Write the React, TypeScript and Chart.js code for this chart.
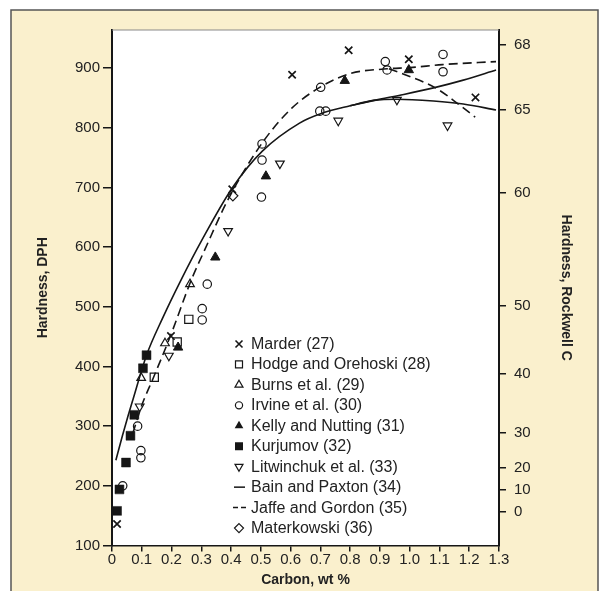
import React, { useEffect, useRef } from 'react';
import { Chart, registerables } from 'chart.js';

Chart.register(...registerables);

// ---------- axis ticks ----------
const xTicks = [0, 0.1, 0.2, 0.3, 0.4, 0.5, 0.6, 0.7, 0.8, 0.9, 1.0, 1.1, 1.2, 1.3];
const xTickLabels = ['0', '0.1', '0.2', '0.3', '0.4', '0.5', '0.6', '0.7', '0.8', '0.9', '1.0', '1.1', '1.2', '1.3'];
const dphTicks = [100, 200, 300, 400, 500, 600, 700, 800, 900];
const hrcLabels = ['68', '65', '60', '50', '40', '30', '20', '10', '0'];
const hrcAtDph = [939, 830, 691, 501, 388, 289, 230, 193, 156];

// ---------- data (carbon wt %, hardness DPH) ----------
const marder = [
  { x: 0.017, y: 136 }, { x: 0.198, y: 451 }, { x: 0.404, y: 697 }, { x: 0.605, y: 889 },
  { x: 0.795, y: 930 }, { x: 0.997, y: 915 }, { x: 1.221, y: 851 },
];
const hodge = [{ x: 0.142, y: 382 }, { x: 0.219, y: 441 }, { x: 0.258, y: 479 }];
const burns = [{ x: 0.098, y: 381 }, { x: 0.178, y: 439 }, { x: 0.262, y: 538 }];
const irvine = [
  { x: 0.036, y: 200 }, { x: 0.086, y: 300 }, { x: 0.097, y: 247 }, { x: 0.097, y: 259 },
  { x: 0.303, y: 497 }, { x: 0.303, y: 478 }, { x: 0.32, y: 538 }, { x: 0.504, y: 773 },
  { x: 0.504, y: 746 }, { x: 0.502, y: 684 }, { x: 0.701, y: 868 }, { x: 0.698, y: 828 },
  { x: 0.718, y: 828 }, { x: 0.918, y: 911 }, { x: 0.924, y: 897 }, { x: 1.112, y: 923 },
  { x: 1.112, y: 894 },
];
const kelly = [
  { x: 0.222, y: 432 }, { x: 0.347, y: 583 }, { x: 0.517, y: 719 }, { x: 0.782, y: 879 },
  { x: 0.997, y: 897 },
];
const kurjumov = [
  { x: 0.017, y: 158 }, { x: 0.025, y: 194 }, { x: 0.047, y: 239 }, { x: 0.062, y: 284 },
  { x: 0.075, y: 319 }, { x: 0.104, y: 397 }, { x: 0.116, y: 419 },
];
const litwinchuk = [
  { x: 0.093, y: 333 }, { x: 0.191, y: 418 }, { x: 0.39, y: 627 }, { x: 0.564, y: 740 },
  { x: 0.76, y: 812 }, { x: 0.957, y: 847 }, { x: 1.127, y: 804 },
];
const materkowski = [{ x: 0.406, y: 686 }];

const bainMain = [
  { x: 0.013, y: 243 }, { x: 0.035, y: 284 }, { x: 0.055, y: 319 }, { x: 0.07, y: 344 },
  { x: 0.116, y: 419 }, { x: 0.17, y: 481 }, { x: 0.233, y: 546 }, { x: 0.3, y: 610 },
  { x: 0.405, y: 700 }, { x: 0.505, y: 761 }, { x: 0.63, y: 808 }, { x: 0.703, y: 824 },
  { x: 0.8, y: 837 }, { x: 0.88, y: 846 }, { x: 0.956, y: 848 }, { x: 1.08, y: 845 },
  { x: 1.18, y: 840 }, { x: 1.29, y: 830 },
];
const bainUpper = [
  { x: 0.8, y: 837 }, { x: 0.88, y: 846 }, { x: 0.98, y: 856 }, { x: 1.08, y: 867 },
  { x: 1.18, y: 880 }, { x: 1.29, y: 897 },
];
const jaffeMain = [
  { x: 0.07, y: 288 }, { x: 0.1, y: 335 }, { x: 0.138, y: 380 }, { x: 0.196, y: 451 },
  { x: 0.268, y: 547 }, { x: 0.311, y: 595 }, { x: 0.391, y: 681 }, { x: 0.505, y: 775 },
  { x: 0.604, y: 833 }, { x: 0.702, y: 869 }, { x: 0.8, y: 891 }, { x: 0.925, y: 899 },
  { x: 1.0, y: 901 }, { x: 1.11, y: 906 }, { x: 1.29, y: 911 },
];
const jaffeLower = [
  { x: 0.93, y: 899 }, { x: 0.98, y: 890 }, { x: 1.09, y: 866 }, { x: 1.168, y: 838 },
  { x: 1.22, y: 818 },
];

const legendLabels = [
  'Marder (27)', 'Hodge and Orehoski (28)', 'Burns et al. (29)', 'Irvine et al. (30)',
  'Kelly and Nutting (31)', 'Kurjumov (32)', 'Litwinchuk et al. (33)', 'Bain and Paxton (34)',
  'Jaffe and Gordon (35)', 'Materkowski (36)',
];
const legendKinds = ['x', 'sq', 'tri', 'circ', 'triF', 'sqF', 'triDown', 'line', 'dash', 'dia'];

const INK = '#161616';
const TEXT = '#222';
const TICK_FONT = { family: "'Liberation Sans', Arial, sans-serif", size: 15 };
const TITLE_FONT = { family: "'Liberation Sans Narrow', 'Liberation Sans', Arial, sans-serif", size: 14, weight: 'bold' as const, lineHeight: 1.2 };

function drawMark(ctx: CanvasRenderingContext2D, kind: string, x: number, y: number) {
  ctx.save();
  ctx.strokeStyle = INK;
  ctx.fillStyle = INK;
  ctx.lineWidth = 1.2;
  ctx.beginPath();
  const tri = (r: number, down: boolean) => {
    const s = down ? -1 : 1;
    ctx.moveTo(x, y - s * r);
    ctx.lineTo(x + r * 0.866, y + s * r * 0.5);
    ctx.lineTo(x - r * 0.866, y + s * r * 0.5);
    ctx.closePath();
  };
  switch (kind) {
    case 'x':
      ctx.lineWidth = 1.6;
      ctx.moveTo(x - 3.5, y - 3.5); ctx.lineTo(x + 3.5, y + 3.5);
      ctx.moveTo(x + 3.5, y - 3.5); ctx.lineTo(x - 3.5, y + 3.5);
      ctx.stroke();
      break;
    case 'sq':
      ctx.rect(x - 3.5, y - 3.5, 7, 7); ctx.stroke();
      break;
    case 'sqF':
      ctx.rect(x - 4, y - 4, 8, 8); ctx.fill();
      break;
    case 'tri':
      tri(4.6, false); ctx.stroke();
      break;
    case 'triF':
      tri(5, false); ctx.fill();
      break;
    case 'triDown':
      tri(4.6, true); ctx.stroke();
      break;
    case 'circ':
      ctx.arc(x, y, 3.6, 0, Math.PI * 2); ctx.stroke();
      break;
    case 'line':
      ctx.lineWidth = 1.5;
      ctx.moveTo(x - 5, y); ctx.lineTo(x + 6, y); ctx.stroke();
      break;
    case 'dash':
      ctx.lineWidth = 1.5;
      ctx.setLineDash([5, 3]);
      ctx.moveTo(x - 6, y); ctx.lineTo(x + 7, y); ctx.stroke();
      break;
    case 'dia':
      ctx.moveTo(x, y - 4.5); ctx.lineTo(x + 4.5, y); ctx.lineTo(x, y + 4.5); ctx.lineTo(x - 4.5, y);
      ctx.closePath(); ctx.stroke();
      break;
  }
  ctx.restore();
}

const framePlugin = {
  id: 'frame',
  beforeDraw(chart: any) {
    const { ctx, chartArea } = chart;
    ctx.save();
    ctx.fillStyle = '#ffffff';
    ctx.fillRect(0, 0, chart.width, chart.height);
    ctx.fillStyle = '#faf0cd';
    ctx.fillRect(11, 10, 587, 600);
    ctx.strokeStyle = '#555';
    ctx.lineWidth = 1.5;
    ctx.strokeRect(11, 10, 587, 600);
    ctx.fillStyle = '#ffffff';
    ctx.fillRect(chartArea.left, chartArea.top, chartArea.right - chartArea.left, chartArea.bottom - chartArea.top);
    ctx.restore();
  },
  afterDraw(chart: any) {
    const { ctx, chartArea } = chart;
    ctx.save();
    ctx.strokeStyle = '#8a8a8a';
    ctx.lineWidth = 1.2;
    ctx.beginPath();
    ctx.moveTo(chartArea.left, chartArea.top);
    ctx.lineTo(chartArea.right, chartArea.top);
    ctx.stroke();
    ctx.restore();
  },
};

const legendPlugin = {
  id: 'insideLegend',
  afterDraw(chart: any) {
    const ctx = chart.ctx as CanvasRenderingContext2D;
    const mx = 239, tx = 251, y0 = 344, dy = 20.45;
    ctx.save();
    ctx.font = "16px 'Liberation Sans', Arial, sans-serif";
    ctx.fillStyle = TEXT;
    ctx.textBaseline = 'middle';
    ctx.textAlign = 'left';
    legendLabels.forEach((label, i) => {
      const y = y0 + i * dy;
      drawMark(ctx, legendKinds[i], mx, y);
      ctx.fillText(label, tx, y + 0.5);
    });
    ctx.restore();
  },
};

const openPoint = { backgroundColor: 'rgba(0,0,0,0)', borderColor: INK, borderWidth: 1.2 };

export default function App() {
  const ref = useRef<HTMLCanvasElement>(null);

  useEffect(() => {
    const canvas = ref.current!;
    const curve = (data: any[], dashed: boolean) => ({
      data,
      showLine: true,
      borderColor: INK,
      borderWidth: 1.6,
      borderDash: dashed ? [9, 5] : [],
      pointRadius: 0,
      fill: false,
      cubicInterpolationMode: 'monotone' as const,
    });
    const chart = new Chart(canvas, {
      type: 'scatter',
      data: {
        datasets: [
          curve(bainMain, false),
          curve(bainUpper, false),
          curve(jaffeMain, true),
          curve(jaffeLower, true),
          { data: marder, pointStyle: 'crossRot', pointRadius: 5.2, borderColor: INK, borderWidth: 1.7 },
          { data: hodge, pointStyle: 'rect', pointRadius: 5.8, ...openPoint },
          { data: burns, pointStyle: 'triangle', pointRadius: 5, ...openPoint },
          { data: irvine, pointStyle: 'circle', pointRadius: 4.2, ...openPoint },
          { data: kelly, pointStyle: 'triangle', pointRadius: 5.4, backgroundColor: INK, borderColor: INK, borderWidth: 1 },
          { data: kurjumov, pointStyle: 'rect', pointRadius: 6.3, backgroundColor: INK, borderColor: INK, borderWidth: 0.5 },
          { data: litwinchuk, pointStyle: 'triangle', rotation: 180, pointRadius: 5, ...openPoint },
          { data: materkowski, pointStyle: 'rectRot', pointRadius: 5, ...openPoint },
        ] as any,
      },
      options: {
        animation: false,
        responsive: false,
        events: [],
        layout: { padding: { top: 30, left: 0, right: 0, bottom: 0 } },
        plugins: { legend: { display: false }, tooltip: { enabled: false } },
        scales: {
          x: {
            type: 'linear',
            position: 'bottom',
            min: 0,
            max: 1.3,
            afterBuildTicks: (s: any) => { s.ticks = xTicks.map((v) => ({ value: v })); },
            afterFit: (s: any) => { s.height = 45.5; },
            ticks: {
              autoSkip: false,
              maxRotation: 0,
              font: TICK_FONT,
              color: TEXT,
              padding: -1,
              callback: (_v: any, i: number) => xTickLabels[i],
            },
            grid: { drawOnChartArea: false, drawTicks: true, tickLength: 6, color: INK, lineWidth: 1.5 },
            border: { display: true, color: INK, width: 1.6 },
            title: { display: true, text: 'Carbon, wt %', color: TEXT, font: TITLE_FONT, padding: { top: 0, bottom: 2 } },
          },
          y: {
            type: 'linear',
            position: 'left',
            min: 100,
            max: 964,
            afterBuildTicks: (s: any) => { s.ticks = dphTicks.map((v) => ({ value: v })); },
            afterFit: (s: any) => { s.width = 112; },
            ticks: { font: TICK_FONT, color: TEXT, padding: 3 },
            grid: { drawOnChartArea: false, drawTicks: true, tickLength: 9, color: INK, lineWidth: 1.5 },
            border: { display: true, color: INK, width: 2 },
            title: { display: true, text: 'Hardness, DPH', color: TEXT, font: TITLE_FONT, padding: { top: 35, bottom: 0 } },
          },
          y2: {
            type: 'linear',
            position: 'right',
            min: 100,
            max: 964,
            afterBuildTicks: (s: any) => { s.ticks = hrcAtDph.map((v) => ({ value: v })); },
            afterFit: (s: any) => { s.width = 104; },
            ticks: {
              font: TICK_FONT,
              color: TEXT,
              padding: 8,
              callback: (_v: any, i: number) => hrcLabels[i],
            },
            grid: { drawOnChartArea: false, drawTicks: true, tickLength: 7, color: INK, lineWidth: 1.5 },
            border: { display: true, color: INK, width: 2 },
            title: { display: true, text: 'Hardness, Rockwell C', color: TEXT, font: TITLE_FONT, padding: { top: 29, bottom: 0 } },
          },
        },
      } as any,
      plugins: [framePlugin, legendPlugin],
    });
    return () => chart.destroy();
  }, []);

  return (
    <div style={{ position: 'absolute', left: 0, top: 0, width: 603, height: 591, background: '#fff' }}>
      <canvas ref={ref} width={603} height={591} style={{ display: 'block', width: 603, height: 591 }} />
    </div>
  );
}
